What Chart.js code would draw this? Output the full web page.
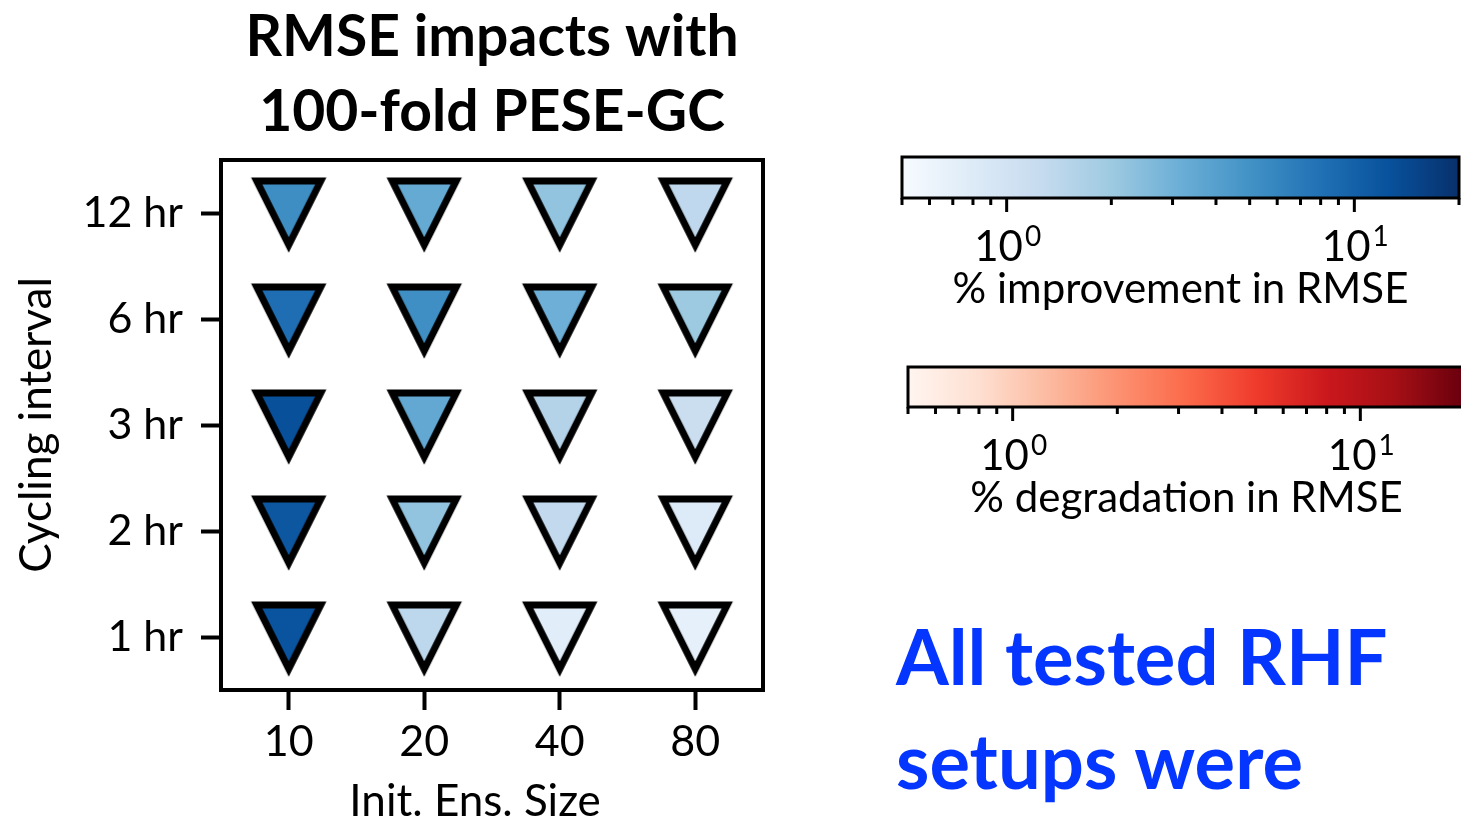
<!DOCTYPE html>
<html>
<head>
<meta charset="utf-8">
<script src="https://cdn.jsdelivr.net/npm/chart.js@4/dist/chart.umd.min.js"></script>
<style>
  html, body { margin: 0; padding: 0; background: #fff; width: 1461px; height: 819px; overflow: hidden; }
  body { position: relative; }
  canvas { position: absolute; }
  #mainChart { left: 0; top: 0; }
  #improveBar { left: 880px; top: 150px; }
  #degradeBar { left: 886px; top: 359px; }
  #note {
    position: absolute; left: 896px; top: 604px;
    font: bold 76px Lato; line-height: 104px; color: #0536ff; white-space: nowrap;
  }
</style>
</head>
<body>
<canvas id="mainChart" width="800" height="819"></canvas>
<canvas id="improveBar" width="581" height="170"></canvas>
<canvas id="degradeBar" width="581" height="170"></canvas>
<div id="note">All tested RHF<br>setups were</div>
<script>
const ensSizes = ["10", "20", "40", "80"];
const cycleLabels = ["1 hr", "2 hr", "3 hr", "6 hr", "12 hr"];

// % improvement in RMSE per initial ensemble size, ordered 1 hr .. 12 hr
const improve10 = [12.2, 11.6, 12.8, 8.3, 5.3];
const improve20 = [1.4, 2.2, 3.5, 5.2, 3.4];
const improve40 = [0.75, 1.3, 1.55, 3.1, 2.2];
const improve80 = [0.68, 0.81, 1.17, 2.0, 1.35];

// colorbar range (log) and its tick positions
const cbarMin = 0.5;
const cbarMax = 20;
const cbarTicks = [0.5, 0.6, 0.7, 0.8, 0.9, 1, 2, 3, 4, 5, 6, 7, 8, 9, 10, 20];

const bluesStops = ["#f7fbff", "#deebf7", "#c6dbef", "#9ecae1", "#6baed6", "#4292c6", "#2171b5", "#08519c", "#08306b"];
const redsStops = ["#fff5f0", "#fee0d2", "#fcbba1", "#fc9272", "#fb6a4a", "#ef3b2c", "#cb181d", "#a50f15", "#67000d"];

Chart.defaults.font.family = "Lato";
Chart.defaults.color = "#000";

function hexToRgb(h) {
  const n = parseInt(h.slice(1), 16);
  return [(n >> 16) & 255, (n >> 8) & 255, n & 255];
}

function sampleMap(stops, t) {
  t = Math.min(1, Math.max(0, t));
  const p = t * (stops.length - 1);
  const i = Math.min(stops.length - 2, Math.floor(p));
  const f = p - i;
  const a = hexToRgb(stops[i]), b = hexToRgb(stops[i + 1]);
  const c = a.map((v, k) => Math.round(v + (b[k] - v) * f));
  return "rgb(" + c.join(",") + ")";
}

function logNorm(v) {
  return (Math.log10(v) - Math.log10(cbarMin)) / (Math.log10(cbarMax) - Math.log10(cbarMin));
}

// downward triangle marker, one canvas per fill colour
const markerCache = {};
function downTriangle(fill) {
  if (markerCache[fill]) return markerCache[fill];
  const c = document.createElement("canvas");
  c.width = 96;
  c.height = 96;
  const g = c.getContext("2d");
  const m = 48, s = 32;
  g.beginPath();
  g.moveTo(m - s, m - s);
  g.lineTo(m + s, m - s);
  g.lineTo(m, m + s);
  g.closePath();
  g.fillStyle = fill;
  g.fill();
  g.lineWidth = 7;
  g.lineJoin = "miter";
  g.strokeStyle = "#000";
  g.stroke();
  markerCache[fill] = c;
  return c;
}

const columns = [improve10, improve20, improve40, improve80];
const points = [];
columns.forEach((col, i) => col.forEach((v, j) => points.push({ x: i, y: j, v: v })));

const frame = {
  id: "frame",
  beforeDatasetsDraw(chart) {
    const { ctx, chartArea: a } = chart;
    ctx.save();
    ctx.lineWidth = 4;
    ctx.strokeStyle = "#000";
    ctx.strokeRect(a.left, a.top, a.right - a.left, a.bottom - a.top);
    ctx.restore();
  }
};

const tickGrid = {
  display: true,
  drawOnChartArea: false,
  drawTicks: true,
  tickLength: 20,
  tickWidth: 4,
  tickColor: "#000"
};

new Chart(document.getElementById("mainChart"), {
  type: "scatter",
  data: {
    datasets: [{
      data: points,
      pointStyle: (ctx) => ctx.raw ? downTriangle(sampleMap(bluesStops, logNorm(ctx.raw.v))) : "triangle",
      pointRadius: 36,
      pointHoverRadius: 36
    }]
  },
  options: {
    responsive: false,
    animation: false,
    devicePixelRatio: 1,
    layout: { padding: { left: 0, right: 34, top: 0, bottom: 0 } },
    plugins: {
      legend: { display: false },
      tooltip: { enabled: false },
      title: {
        display: true,
        fullSize: false,
        text: ["RMSE impacts with", "100-fold PESE-GC"],
        font: { size: 57, weight: "bold", lineHeight: 75 / 57 },
        color: "#000",
        padding: { top: 0, bottom: 10 }
      }
    },
    scales: {
      x: {
        type: "linear",
        min: -0.5,
        max: 3.5,
        afterBuildTicks: (s) => { s.ticks = ensSizes.map((_, i) => ({ value: i })); },
        afterFit: (s) => { s.height = 129; },
        ticks: { font: { size: 43 }, padding: 6, callback: (v) => ensSizes[v] },
        grid: tickGrid,
        border: { display: false },
        title: { display: true, text: "Init. Ens. Size   ", font: { size: 44, lineHeight: 0.8 }, padding: { top: 0, bottom: 0 } }
      },
      y: {
        type: "linear",
        min: -0.5,
        max: 4.5,
        afterBuildTicks: (s) => { s.ticks = cycleLabels.map((_, i) => ({ value: i })); },
        afterFit: (s) => { s.width = 221; },
        ticks: { font: { size: 43 }, padding: 18, callback: (v) => cycleLabels[v] },
        grid: tickGrid,
        border: { display: false },
        title: { display: true, text: "Cycling interval", font: { size: 44, lineHeight: 1 }, padding: { top: 15, bottom: 0 } }
      }
    }
  },
  plugins: [frame]
});

// paints the colour strip, outline, log ticks and 10^n labels
function colorbarPainter(stops) {
  return {
    id: "colorbarPainter",
    afterDraw(chart) {
      const { ctx, chartArea: a } = chart;
      const sx = chart.scales.x;
      ctx.save();
      for (let px = Math.floor(a.left); px < a.right; px++) {
        ctx.fillStyle = sampleMap(stops, logNorm(sx.getValueForPixel(px + 0.5)));
        ctx.fillRect(px, a.top, 1, a.bottom - a.top);
      }
      ctx.lineWidth = 3;
      ctx.strokeStyle = "#000";
      ctx.strokeRect(a.left, a.top, a.right - a.left, a.bottom - a.top);

      ctx.fillStyle = "#000";
      cbarTicks.forEach((v) => {
        const x = sx.getPixelForValue(v);
        const exp = Math.log10(v);
        const major = Math.abs(exp - Math.round(exp)) < 1e-9;
        ctx.lineWidth = 3;
        ctx.beginPath();
        ctx.moveTo(x, a.bottom);
        ctx.lineTo(x, a.bottom + (major ? 14 : 7));
        ctx.stroke();
        if (major) {
          const base = "10", sup = String(Math.round(exp));
          ctx.font = "42px Lato";
          const w1 = ctx.measureText(base).width;
          ctx.font = "28px Lato";
          const w2 = ctx.measureText(sup).width;
          const x0 = x - (w1 + w2) / 2;
          ctx.textAlign = "left";
          ctx.textBaseline = "alphabetic";
          ctx.font = "42px Lato";
          ctx.fillText(base, x0, a.bottom + 63);
          ctx.font = "28px Lato";
          ctx.fillText(sup, x0 + w1 + 2, a.bottom + 48);
        }
      });
      ctx.restore();
    }
  };
}

function colorbar(id, stops, label, padTop, titleBottom) {
  return new Chart(document.getElementById(id), {
    type: "scatter",
    data: { datasets: [] },
    options: {
      responsive: false,
      animation: false,
      devicePixelRatio: 1,
      layout: { padding: { left: 22, right: 2, top: padTop, bottom: 0 } },
      plugins: { legend: { display: false }, tooltip: { enabled: false } },
      scales: {
        x: {
          type: "logarithmic",
          min: cbarMin,
          max: cbarMax,
          afterFit: (s) => { s.height = 122; },
          ticks: { display: false },
          grid: { display: false },
          border: { display: false },
          title: { display: true, text: label, font: { size: 42 }, padding: { top: 0, bottom: titleBottom } }
        },
        y: { display: false, min: 0, max: 1 }
      }
    },
    plugins: [colorbarPainter(stops)]
  });
}

colorbar("improveBar", bluesStops, "% improvement in RMSE", 7, 5);
colorbar("degradeBar", redsStops, "% degradation in RMSE", 8, 5);
</script>
</body>
</html>
